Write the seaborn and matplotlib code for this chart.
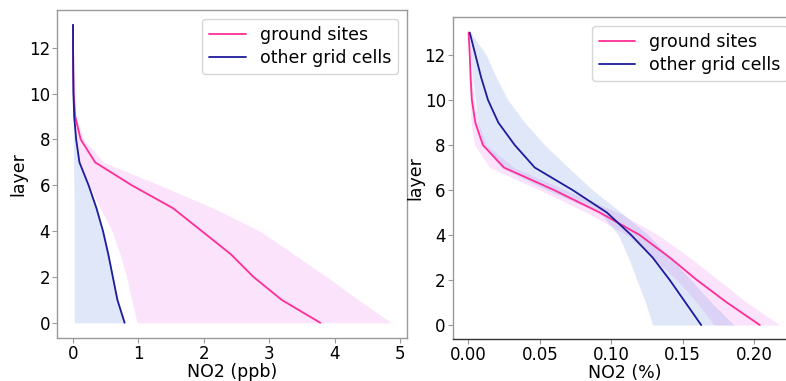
import numpy as np
import pandas as pd
import matplotlib
matplotlib.use("Agg")
import matplotlib.pyplot as plt
import seaborn as sns

sns.set_style("white")
plt.rcParams["font.family"] = ["DejaVu Sans"]
plt.rcParams["text.color"] = "black"
plt.rcParams["axes.labelcolor"] = "black"
plt.rcParams["xtick.color"] = "black"
plt.rcParams["ytick.color"] = "black"

layers = list(range(14))

# NO2 concentration profiles (ppb) by model layer
ppb_ground = [3.78, 3.19, 2.76, 2.41, 1.97, 1.53, 0.90, 0.34, 0.12, 0.035, 0.012, 0.006, 0.003, 0.002]
ppb_ground_lo = [0.98, 0.90, 0.82, 0.72, 0.60, 0.42, 0.25, 0.10, 0.05, 0.02, 0.008, 0.004, 0.002, 0.001]
ppb_ground_hi = [4.87, 4.36, 3.88, 3.37, 2.86, 2.15, 1.33, 0.47, 0.16, 0.05, 0.02, 0.01, 0.005, 0.003]
ppb_other = [0.79, 0.68, 0.61, 0.54, 0.46, 0.36, 0.24, 0.10, 0.05, 0.02, 0.008, 0.005, 0.003, 0.002]
ppb_other_lo = [0.02, 0.02, 0.02, 0.02, 0.02, 0.02, 0.015, 0.01, 0.008, 0.005, 0.003, 0.002, 0.001, 0.001]
ppb_other_hi = [0.80, 0.69, 0.62, 0.55, 0.47, 0.37, 0.25, 0.11, 0.055, 0.022, 0.009, 0.005, 0.003, 0.002]

# Share of the column (%) by model layer
pct_ground = [0.204, 0.181, 0.160, 0.141, 0.120, 0.092, 0.060, 0.025, 0.0102, 0.0049, 0.0025, 0.0016, 0.001, 0.0002]
pct_ground_lo = [0.172, 0.160, 0.146, 0.129, 0.111, 0.083, 0.050, 0.015, 0.0044, 0.002, 0.0012, 0.0008, 0.0004, 0.0001]
pct_ground_hi = [0.218, 0.195, 0.175, 0.155, 0.133, 0.105, 0.068, 0.032, 0.0126, 0.007, 0.004, 0.0025, 0.0015, 0.0004]
pct_other = [0.163, 0.152, 0.141, 0.129, 0.114, 0.097, 0.073, 0.0465, 0.0325, 0.021, 0.0138, 0.009, 0.005, 0.001]
pct_other_lo = [0.129, 0.124, 0.118, 0.112, 0.105, 0.092, 0.055, 0.023, 0.010, 0.0067, 0.005, 0.003, 0.0016, 0.0002]
pct_other_hi = [0.186, 0.170, 0.156, 0.141, 0.126, 0.107, 0.087, 0.070, 0.0535, 0.0395, 0.0278, 0.0196, 0.0126, 0.0016]

PINK = "#ff2d96"
NAVY = "#1c1c9c"
PINK_FILL = "#ee82ee"
BLUE_FILL = "#6f96e6"
SPINE = "#999999"

fig = plt.figure(figsize=(7.86, 3.81), dpi=100)
ax1 = fig.add_axes([0.0725, 0.1137, 0.4449, 0.8601])
ax2 = fig.add_axes([0.5760, 0.1102, 0.4372, 0.8451])


def draw_panel(ax, g, g_lo, g_hi, o, o_lo, o_hi, xlabel):
    df = pd.DataFrame({
        "layer": layers * 2,
        "value": g + o,
        "group": ["ground sites"] * len(layers) + ["other grid cells"] * len(layers),
    })
    ax.fill_betweenx(layers, g_lo, g_hi, color=PINK_FILL, alpha=0.22, linewidth=0)
    ax.fill_betweenx(layers, o_lo, o_hi, color=BLUE_FILL, alpha=0.22, linewidth=0)
    sns.lineplot(data=df, x="value", y="layer", hue="group", orient="y",
                 estimator=None, palette={"ground sites": PINK, "other grid cells": NAVY},
                 linewidth=1.3, ax=ax)
    ax.set_ylabel("layer", fontsize=12.5, labelpad=1)
    ax.set_xlabel(xlabel, fontsize=12.5, labelpad=0)
    ax.set_yticks([0, 2, 4, 6, 8, 10, 12])
    ax.tick_params(axis="both", labelsize=12, length=3.5, width=0.8,
                   color=SPINE, labelcolor="black", pad=1.5, bottom=True, left=True)
    for s in ax.spines.values():
        s.set_color(SPINE)
        s.set_linewidth(1.0)
    ax.legend(title=None, fontsize=12.5, loc="upper right", frameon=True,
              handlelength=2.1, borderpad=0.4, labelspacing=0.3)


draw_panel(ax1, ppb_ground, ppb_ground_lo, ppb_ground_hi,
           ppb_other, ppb_other_lo, ppb_other_hi, "NO2 (ppb)")
ax1.set_xticks([0, 1, 2, 3, 4, 5])
ax1.set_xlim(-0.243, 5.10)
ax1.set_ylim(-0.65, 13.65)

draw_panel(ax2, pct_ground, pct_ground_lo, pct_ground_hi,
           pct_other, pct_other_lo, pct_other_hi, "NO2 (%)")
ax2.set_xticks([0.0, 0.05, 0.10, 0.15, 0.20])
ax2.set_xticklabels(["0.00", "0.05", "0.10", "0.15", "0.20"])
ax2.set_xlim(-0.0109, 0.2296)
ax2.set_ylim(-0.62, 13.69)
ax2.spines["bottom"].set_color("#333333")
ax2.yaxis.labelpad = 0

fig.savefig("out.png", dpi=100)
